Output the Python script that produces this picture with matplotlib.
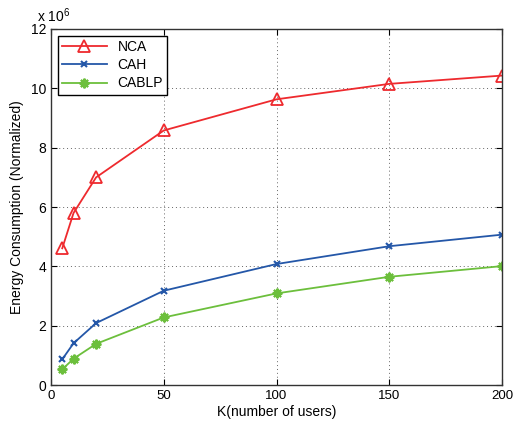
import numpy as np
import matplotlib
matplotlib.use("Agg")
import matplotlib.pyplot as plt

plt.rcParams['font.family'] = ['Liberation Sans', 'DejaVu Sans']
plt.rcParams['mathtext.fontset'] = 'custom'
plt.rcParams['mathtext.rm'] = 'Liberation Sans'

K = [5, 10, 20, 50, 100, 150, 200]
nca = [4.61, 5.8, 7.0, 8.58, 9.63, 10.15, 10.43]
cah = [0.87, 1.41, 2.09, 3.18, 4.08, 4.68, 5.07]
cablp = [0.53, 0.89, 1.39, 2.28, 3.09, 3.65, 4.01]
scale = 1e6

fig = plt.figure(figsize=(5.15, 4.26), dpi=100)
ax = fig.add_axes([0.099, 0.096, 0.876, 0.836])

ax.plot(K, np.array(nca) * scale, color='#ee2a2e', lw=1.3, marker='^', ms=8,
        mfc='none', mew=1.3, label='NCA')
ax.plot(K, np.array(cah) * scale, color='#2457a8', lw=1.3, marker='x', ms=5,
        mew=1.5, label='CAH')
ax.plot(K, np.array(cablp) * scale, color='#6cbf3c', lw=1.3, marker=(8, 2, 0), ms=7,
        mew=1.5, label='CABLP')

ax.set_xlim(0, 200)
ax.set_ylim(0, 12e6)
ax.set_xticks([0, 50, 100, 150, 200])
ax.set_yticks(np.arange(0, 13, 2) * scale)
ax.set_yticklabels([str(v) for v in range(0, 13, 2)])
ax.tick_params(direction='in', labelsize=10, length=4, top=True, right=True)
ax.tick_params(axis='x', labelsize=9.5)
ax.grid(True, linestyle=(0, (1, 3)), color='#666666', lw=0.7)
for s in ax.spines.values():
    s.set_linewidth(1.0)
    s.set_color('#333333')

ax.text(-0.03, 1.012, r'x 10$^6$', transform=ax.transAxes, fontsize=10, va='bottom')
ax.set_xlabel('K(number of users)', fontsize=10, labelpad=2)
ax.set_ylabel('Energy Consumption (Normalized)', fontsize=10, labelpad=5)

leg = ax.legend(loc='upper left', fontsize=10, fancybox=False, framealpha=1,
                edgecolor='black', borderaxespad=0.5, handlelength=3.2,
                borderpad=0.3, labelspacing=0.3)
leg.get_frame().set_linewidth(1.0)

fig.savefig('out.png', dpi=100)
